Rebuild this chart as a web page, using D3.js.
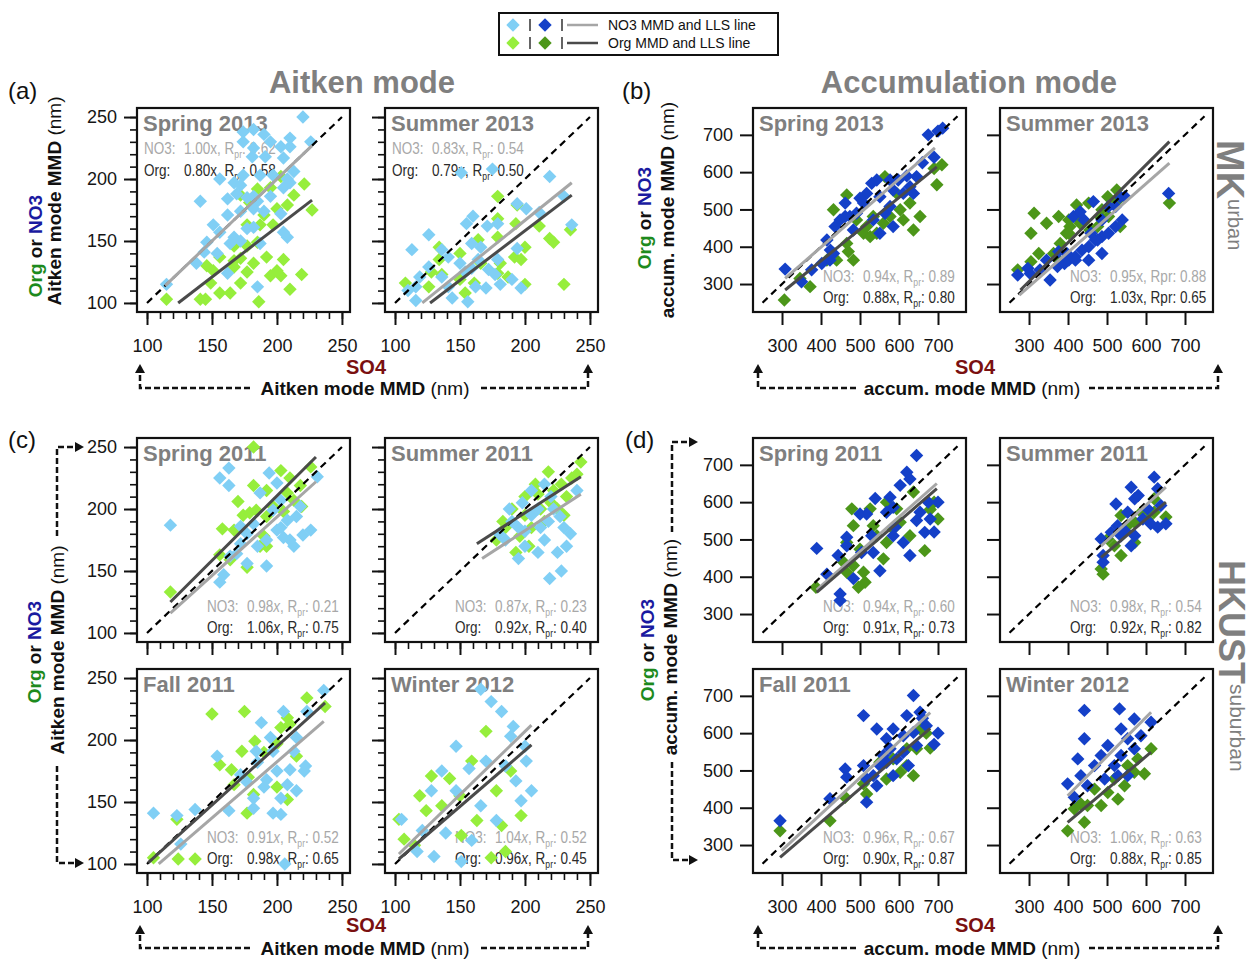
<!DOCTYPE html>
<html>
<head>
<meta charset="utf-8">
<script src="https://cdn.jsdelivr.net/npm/d3@7"></script>
<style>
  body { margin: 0; background: #fff; }
  text { font-family: "Liberation Sans", Arial, sans-serif; }
  .stat { font-size: 16.5px; }
  .ptitle { font-weight: bold; font-size: 22px; fill: #7f7f7f; }
</style>
</head>
<body>
<div id="chart"></div>
<script>
// ---- data: MK urban, Aitken mode (SO4 MMD, Org/NO3 MMD in nm)
const mkAitSpr13NO3 = [[220,250],[174,238],[182,240],[190,236],[210,233],[195,230],[174,230],[226,230],[182,225],[203,226],[210,226],[181,218],[191,218],[205,217],[156,200],[167,197],[174,203],[172,195],[187,203],[197,203],[208,200],[213,206],[141,182],[162,184],[169,188],[177,185],[185,182],[195,186],[205,193],[210,197],[151,163],[162,171],[172,174],[182,176],[190,174],[203,172],[146,149],[156,157],[167,153],[172,150],[177,160],[182,161],[205,157],[208,153],[144,141],[154,140],[164,148],[187,148],[162,124],[185,113],[115,115],[138,132],[182,186]];
const mkAitSpr13Org = [[115,103],[141,103],[145,103],[186,101],[156,108],[164,108],[149,116],[172,116],[210,111],[219,123],[195,122],[203,122],[200,126],[151,126],[167,129],[177,125],[182,132],[192,137],[205,135],[172,136],[167,134],[146,130],[167,146],[177,146],[185,149],[156,137],[177,163],[187,163],[197,163],[190,171],[200,176],[208,179],[213,187],[221,196],[227,175],[179,181],[185,192],[195,193],[203,202],[172,187]];
const mkAitSum13NO3 = [[151,205],[175,208],[219,202],[160,170],[155,164],[126,155],[113,143],[171,162],[179,164],[194,180],[201,176],[211,173],[236,163],[136,143],[141,137],[159,148],[166,145],[164,135],[150,132],[154,125],[159,128],[179,135],[194,144],[126,129],[136,121],[141,113],[116,113],[119,121],[110,110],[116,102],[144,104],[156,101],[162,113],[170,112],[181,115],[190,119],[197,112],[230,186],[172,127],[177,123]];
const mkAitSum13Org = [[179,186],[194,179],[179,168],[193,164],[211,162],[219,152],[222,149],[235,159],[179,153],[164,151],[150,140],[134,145],[134,135],[192,137],[197,135],[200,145],[179,124],[181,132],[166,132],[150,119],[136,123],[128,125],[108,116],[126,113],[154,108],[161,116],[200,115],[230,115],[187,121]];

// ---- MK urban, accumulation mode
const mkAccSpr13NO3 = [[308,340],[350,306],[376,338],[402,355],[415,418],[424,391],[436,454],[449,472],[462,517],[474,481],[491,490],[509,517],[517,543],[530,570],[551,534],[564,490],[577,579],[585,552],[598,579],[611,543],[628,561],[637,543],[645,588],[675,700],[577,508],[534,472],[551,436],[585,454],[483,445],[423,364],[432,382],[462,481],[500,530],[543,579],[700,710],[712,718],[660,625],[620,590],[690,640]];
const mkAccSpr13Org = [[306,257],[346,315],[372,293],[432,499],[466,539],[415,364],[440,364],[470,387],[466,409],[483,364],[509,436],[526,427],[543,436],[560,463],[564,588],[577,481],[603,499],[611,472],[637,445],[654,481],[628,517],[594,543],[534,481],[517,454],[491,472],[697,566],[690,610],[710,620]];
const mkAccSum13NO3 = [[271,324],[297,342],[303,328],[328,338],[354,311],[373,347],[391,355],[402,364],[419,373],[436,391],[453,400],[470,418],[487,427],[504,436],[522,454],[539,472],[534,534],[476,418],[459,436],[441,472],[414,481],[431,494],[465,521],[504,508],[419,364],[397,382],[487,472],[522,508],[546,534],[658,543],[487,382],[453,364],[376,387],[345,364]];
const mkAccSum13Org = [[313,490],[305,436],[345,463],[376,481],[405,454],[422,512],[380,409],[363,382],[396,436],[431,472],[456,445],[482,481],[502,534],[525,552],[525,521],[504,481],[476,454],[402,436],[376,364],[305,360],[271,338],[325,382],[534,454],[660,517],[453,517],[402,472],[431,463],[487,499]];

// ---- HKUST suburban, Aitken mode
const hkAitSpr11NO3 = [[118,187],[156,225],[163,233],[163,219],[182,188],[177,180],[172,172],[164,162],[169,164],[177,156],[156,141],[159,147],[192,154],[194,229],[200,221],[203,207],[197,199],[200,183],[205,177],[210,175],[213,170],[215,194],[218,202],[220,179],[226,183],[231,226],[203,185],[192,175],[185,170],[208,191],[187,213],[172,186]];
const hkAitSpr11Org = [[118,133],[182,250],[158,184],[167,183],[170,206],[174,195],[179,197],[156,163],[164,159],[177,153],[192,170],[190,178],[192,194],[197,202],[203,231],[210,225],[208,213],[218,219],[226,234],[219,202],[213,207],[205,198],[187,170],[182,219],[192,215],[184,199]];
const hkAitSum11NO3 = [[180,180],[185,175],[190,190],[195,185],[200,170],[205,195],[210,200],[212,185],[215,175],[218,190],[220,210],[222,200],[225,165],[228,150],[230,185],[205,215],[195,160],[200,182],[215,220],[232,170],[210,165],[240,215],[188,200],[198,205],[227,194],[219,144],[235,180]];
const hkAitSum11Org = [[178,175],[183,190],[190,200],[196,178],[200,210],[205,185],[208,220],[212,200],[215,190],[218,230],[222,215],[225,200],[228,220],[232,210],[236,225],[243,238],[185,185],[200,195],[210,212],[220,205],[230,195],[240,228],[203,170],[193,165]];
const hkAitFal11NO3 = [[105,141],[123,139],[126,116],[137,144],[154,187],[163,143],[172,172],[177,166],[182,153],[188,214],[185,182],[195,202],[197,191],[200,175],[203,153],[208,164],[210,176],[213,191],[215,202],[205,223],[223,223],[221,175],[222,179],[215,159],[197,141],[203,140],[206,100],[236,240],[190,162],[182,145],[192,168],[184,191]];
const hkAitFal11Org = [[105,105],[124,104],[137,104],[123,136],[150,221],[175,223],[156,180],[165,176],[173,191],[178,170],[183,199],[190,190],[200,197],[200,162],[203,210],[208,218],[208,152],[210,213],[215,187],[223,234],[237,227],[177,141],[182,156],[167,164]];
const hkAitWin12NO3 = [[105,136],[128,159],[139,125],[130,106],[147,195],[157,177],[166,241],[174,231],[182,223],[189,203],[193,167],[201,183],[197,151],[205,159],[178,135],[166,147],[159,119],[151,102],[200,195],[191,211],[170,183],[185,179],[147,159],[136,175],[121,127],[117,110]];
const hkAitWin12Org = [[103,136],[107,120],[115,115],[124,143],[136,147],[142,169],[150,155],[159,183],[170,207],[174,105],[182,131],[189,175],[178,159],[163,135],[151,123],[128,171],[119,155],[197,139],[185,110]];

// ---- HKUST suburban, accumulation mode
const hkAccSpr11NO3 = [[389,476],[415,407],[444,457],[466,483],[466,506],[483,395],[449,354],[500,568],[517,568],[539,610],[530,510],[534,465],[551,416],[577,613],[585,586],[590,533],[603,645],[620,680],[628,662],[645,725],[628,457],[611,492],[654,573],[666,519],[645,551],[568,573],[585,510],[504,465],[449,336],[690,520],[680,555],[700,600],[675,600]];
const hkAccSpr11Org = [[387,372],[466,492],[458,439],[483,430],[500,474],[509,412],[513,385],[496,372],[466,412],[479,582],[534,537],[543,510],[568,492],[585,528],[594,582],[603,546],[628,510],[637,627],[666,470],[568,600],[526,582],[483,537],[560,448],[690,600],[680,580],[700,555]];
const hkAccSum11NO3 = [[621,667],[562,640],[571,609],[523,595],[580,618],[630,636],[553,573],[604,582],[527,537],[545,524],[571,510],[562,483],[485,501],[511,519],[612,542],[630,533],[651,542],[490,439],[490,457],[536,510],[638,591],[592,555]];
const hkAccSum11Org = [[490,407],[485,421],[536,564],[571,546],[588,573],[621,573],[651,560],[621,609],[571,492],[519,483],[553,537],[604,555],[536,457],[502,501]];
const hkAccFal11NO3 = [[295,365],[423,424],[462,504],[466,482],[509,647],[509,513],[517,415],[543,459],[534,486],[551,513],[568,585],[585,611],[577,558],[568,522],[594,531],[611,549],[620,647],[637,701],[637,602],[645,567],[654,656],[611,593],[585,486],[560,540],[517,477],[543,611],[624,513],[670,620],[690,570],[700,600],[660,640]];
const hkAccFal11Org = [[295,338],[423,365],[462,428],[517,437],[509,464],[568,477],[603,495],[620,513],[637,486],[645,558],[654,611],[585,531],[551,522],[620,558],[670,600],[680,560]];
const hkAccWin12NO3 = [[442,661],[532,665],[442,585],[425,531],[399,464],[416,428],[450,459],[433,486],[485,540],[502,567],[536,611],[553,585],[570,638],[613,629],[587,593],[519,513],[536,540],[553,486],[494,477],[468,513],[570,558],[528,486]];
const hkAccWin12Org = [[399,338],[442,361],[433,410],[485,406],[502,441],[528,423],[545,459],[570,495],[596,491],[613,558],[579,531],[553,513],[519,477],[468,450],[450,406],[416,397]];

// LLS fit lines [x1, y1, x2, y2] for NO3 then Org
const mkAitSpr13Fit = [[114,114,227,227],[124,100,227,183]];
const mkAitSum13Fit = [[121,100,236,197],[127,100,236,187]];
const mkAccSpr13Fit = [[308,315,692,665],[308,284,697,614]];
const mkAccSum13Fit = [[275,270,660,624],[278,284,660,682]];
const hkAitSpr11Fit = [[118,116,230,222],[118,125,230,242]];
const hkAitSum11Fit = [[167,160,243,212],[163,172,243,226]];
const hkAitFal11Fit = [[109,100,236,215],[101,101,237,230]];
const hkAitWin12Fit = [[103,108,205,212],[103,104,205,196]];
const hkAccSpr11Fit = [[389,365,697,650],[389,358,697,636]];
const hkAccSum11Fit = [[485,483,651,640],[485,452,651,600]];
const hkAccFal11Fit = [[299,285,680,655],[295,267,680,613]];
const hkAccWin12Fit = [[399,432,613,656],[399,361,613,549]];

// slope / Rpr text: NO3 slope, NO3 R, Org slope, Org R
const mkAitSpr13Stats = ['1.00','0.62','0.80','0.58'];
const mkAitSum13Stats = ['0.83','0.54','0.79','0.50'];
const mkAccSpr13Stats = ['0.94','0.89','0.88','0.80'];
const mkAccSum13Stats = ['0.95','0.88','1.03','0.65'];
const hkAitSpr11Stats = ['0.98','0.21','1.06','0.75'];
const hkAitSum11Stats = ['0.87','0.23','0.92','0.40'];
const hkAitFal11Stats = ['0.91','0.52','0.98','0.65'];
const hkAitWin12Stats = ['1.04','0.52','0.96','0.45'];
const hkAccSpr11Stats = ['0.94','0.60','0.91','0.73'];
const hkAccSum11Stats = ['0.98','0.54','0.92','0.82'];
const hkAccFal11Stats = ['0.96','0.67','0.90','0.87'];
const hkAccWin12Stats = ['1.06','0.63','0.88','0.85'];

const aitTicks = [100, 150, 200, 250];
const aitMinor = [100,110,120,130,140,150,160,170,180,190,200,210,220,230,240,250];
const accTicks = [300, 400, 500, 600, 700];

// ---- layout
const W = 1254, H = 959;
const colX = [137, 385, 753, 1000];
const rowY = [108, 438, 669];
const PW = 213, PH = 204;

const modes = {
  ait: { xDom: [92.3, 256.2], yDom: [92.7, 257.3], major: aitTicks, minor: aitMinor, one: [100, 250],
         no3Col: '#80cff5', orgCol: '#96ee3c' },
  acc: { xDom: [225.6, 771.8], yDom: [225, 772], major: accTicks, minor: [], one: [250, 750],
         no3Col: '#1440c8', orgCol: '#4c9619' }
};

const panels = [
  { mode: 'ait', col: 0, row: 0, title: 'Spring 2013', no3: mkAitSpr13NO3, org: mkAitSpr13Org, fit: mkAitSpr13Fit, stats: mkAitSpr13Stats, top: true },
  { mode: 'ait', col: 1, row: 0, title: 'Summer 2013', no3: mkAitSum13NO3, org: mkAitSum13Org, fit: mkAitSum13Fit, stats: mkAitSum13Stats, top: true },
  { mode: 'acc', col: 2, row: 0, title: 'Spring 2013', no3: mkAccSpr13NO3, org: mkAccSpr13Org, fit: mkAccSpr13Fit, stats: mkAccSpr13Stats },
  { mode: 'acc', col: 3, row: 0, title: 'Summer 2013', no3: mkAccSum13NO3, org: mkAccSum13Org, fit: mkAccSum13Fit, stats: mkAccSum13Stats, plainR: true },
  { mode: 'ait', col: 0, row: 1, title: 'Spring 2011', no3: hkAitSpr11NO3, org: hkAitSpr11Org, fit: hkAitSpr11Fit, stats: hkAitSpr11Stats, ital: true },
  { mode: 'ait', col: 1, row: 1, title: 'Summer 2011', no3: hkAitSum11NO3, org: hkAitSum11Org, fit: hkAitSum11Fit, stats: hkAitSum11Stats, ital: true },
  { mode: 'ait', col: 0, row: 2, title: 'Fall 2011', no3: hkAitFal11NO3, org: hkAitFal11Org, fit: hkAitFal11Fit, stats: hkAitFal11Stats, ital: true },
  { mode: 'ait', col: 1, row: 2, title: 'Winter 2012', no3: hkAitWin12NO3, org: hkAitWin12Org, fit: hkAitWin12Fit, stats: hkAitWin12Stats, ital: true },
  { mode: 'acc', col: 2, row: 1, title: 'Spring 2011', no3: hkAccSpr11NO3, org: hkAccSpr11Org, fit: hkAccSpr11Fit, stats: hkAccSpr11Stats, ital: true },
  { mode: 'acc', col: 3, row: 1, title: 'Summer 2011', no3: hkAccSum11NO3, org: hkAccSum11Org, fit: hkAccSum11Fit, stats: hkAccSum11Stats, ital: true },
  { mode: 'acc', col: 2, row: 2, title: 'Fall 2011', no3: hkAccFal11NO3, org: hkAccFal11Org, fit: hkAccFal11Fit, stats: hkAccFal11Stats, ital: true },
  { mode: 'acc', col: 3, row: 2, title: 'Winter 2012', no3: hkAccWin12NO3, org: hkAccWin12Org, fit: hkAccWin12Fit, stats: hkAccWin12Stats, ital: true }
];

const svg = d3.select('#chart').append('svg').attr('width', W).attr('height', H);
svg.append('rect').attr('width', W).attr('height', H).attr('fill', '#fff');

const diamond = d3.symbol(d3.symbolSquare, 90);

function styleAxis(sel, width) {
  sel.select('.domain').remove();
  sel.selectAll('line').attr('stroke', '#111').attr('stroke-width', width);
  sel.selectAll('text').attr('font-size', 18).attr('fill', '#151515')
    .attr('font-family', '"Liberation Sans", Arial, sans-serif');
}

// condensed look: squeeze horizontally, like a narrow face
const SQ = 0.82;
function statLine(g, x, y, label, slope, r, color, p) {
  const t = g.append('text').attr('class', 'stat')
    .attr('transform', `translate(${x},${y}) scale(${SQ},1)`).attr('fill', color);
  t.append('tspan').text(label);
  t.append('tspan').attr('x', 40 / SQ).text(slope);
  t.append('tspan').attr('font-style', p.ital ? 'italic' : null).text('x');
  if (p.plainR) {
    t.append('tspan').text(', Rpr: ' + r);
  } else {
    t.append('tspan').text(', R');
    t.append('tspan').attr('font-size', 10.5).attr('dy', 4).text('pr');
    t.append('tspan').attr('dy', -4).text(': ' + r);
  }
}

function drawPanel(p) {
  const m = modes[p.mode];
  const x0 = colX[p.col], y0 = rowY[p.row];
  const xs = d3.scaleLinear().domain(m.xDom).range([x0, x0 + PW]);
  const ys = d3.scaleLinear().domain(m.yDom).range([y0 + PH, y0]);
  const g = svg.append('g');

  const showY = p.col % 2 === 0;
  const showX = p.row !== 1;

  // minor ticks
  if (m.minor.length) {
    g.append('g').attr('transform', `translate(${x0},0)`)
      .call(d3.axisLeft(ys).tickValues(m.minor).tickSize(7).tickFormat(''))
      .call(s => styleAxis(s, 1.6));
    g.append('g').attr('transform', `translate(0,${y0 + PH})`)
      .call(d3.axisBottom(xs).tickValues(m.minor).tickSize(7).tickFormat(''))
      .call(s => styleAxis(s, 1.6));
  }
  // major ticks
  g.append('g').attr('transform', `translate(${x0},0)`)
    .call(d3.axisLeft(ys).tickValues(m.major).tickSize(13).tickPadding(7)
      .tickFormat(showY ? d3.format('d') : ''))
    .call(s => styleAxis(s, 2));
  g.append('g').attr('transform', `translate(0,${y0 + PH})`)
    .call(d3.axisBottom(xs).tickValues(m.major).tickSize(13).tickPadding(14)
      .tickFormat(showX ? d3.format('d') : ''))
    .call(s => styleAxis(s, 2));

  // season title and stats
  g.append('text').attr('class', 'ptitle').attr('x', x0 + 6).attr('y', y0 + 23).text(p.title);
  const lx = p.top ? x0 + 7 : x0 + 70;
  const ly = p.top ? [y0 + 46, y0 + 68] : [y0 + PH - 30, y0 + PH - 9];
  statLine(g, lx, ly[0], 'NO3:', p.stats[0], p.stats[1], '#a8a8a8', p);
  statLine(g, lx, ly[1], 'Org:', p.stats[2], p.stats[3], '#2a2a2a', p);

  // markers
  g.append('g').selectAll('path').data(p.org).join('path')
    .attr('d', diamond)
    .attr('transform', d => `translate(${xs(d[0])},${ys(d[1])}) rotate(45)`)
    .attr('fill', m.orgCol);
  g.append('g').selectAll('path').data(p.no3).join('path')
    .attr('d', diamond)
    .attr('transform', d => `translate(${xs(d[0])},${ys(d[1])}) rotate(45)`)
    .attr('fill', m.no3Col);

  // 1:1 line
  g.append('line')
    .attr('x1', xs(m.one[0])).attr('y1', ys(m.one[0]))
    .attr('x2', xs(m.one[1])).attr('y2', ys(m.one[1]))
    .attr('stroke', '#000').attr('stroke-width', 2.2).attr('stroke-dasharray', '7,5');

  // LLS fits
  const fitCols = ['#a6a6a6', '#4a4a4a'];
  p.fit.forEach((f, i) => {
    g.append('line')
      .attr('x1', xs(f[0])).attr('y1', ys(f[1]))
      .attr('x2', xs(f[2])).attr('y2', ys(f[3]))
      .attr('stroke', fitCols[i]).attr('stroke-width', 3);
  });

  g.append('rect').attr('x', x0).attr('y', y0).attr('width', PW).attr('height', PH)
    .attr('fill', 'none').attr('stroke', '#111').attr('stroke-width', 2.2);
}

panels.forEach(drawPanel);

// ---- headers and labels
const gray = '#7f7f7f';
svg.append('text').attr('x', 362).attr('y', 93).attr('text-anchor', 'middle')
  .attr('font-size', 31).attr('font-weight', 'bold').attr('fill', gray).text('Aitken mode');
svg.append('text').attr('x', 969).attr('y', 93).attr('text-anchor', 'middle')
  .attr('font-size', 31).attr('font-weight', 'bold').attr('fill', gray).text('Accumulation mode');

[['(a)', 8, 99], ['(b)', 622, 99], ['(c)', 8, 448], ['(d)', 625, 448]].forEach(([t, x, y]) => {
  svg.append('text').attr('x', x).attr('y', y).attr('font-size', 24).attr('fill', '#111').text(t);
});

// site labels on the right, reading downwards
const mk = svg.append('text').attr('transform', 'translate(1217,140) rotate(90)')
  .attr('fill', gray);
mk.append('tspan').attr('font-size', 38).attr('font-weight', 'bold').text('MK');
mk.append('tspan').attr('font-size', 20).attr('dy', -11).text('urban');
const hk = svg.append('text').attr('transform', 'translate(1219,560) rotate(90)')
  .attr('fill', gray);
hk.append('tspan').attr('font-size', 36).attr('font-weight', 'bold').text('HKUST');
hk.append('tspan').attr('font-size', 21).attr('dy', -11).text('suburban');

// rotated y titles
function orgNo3(cx, cy) {
  const t = svg.append('text').attr('transform', `translate(${cx},${cy}) rotate(-90)`)
    .attr('text-anchor', 'middle').attr('dy', '0.35em')
    .attr('font-size', 19).attr('font-weight', 'bold');
  t.append('tspan').attr('fill', '#1d8a1d').text('Org');
  t.append('tspan').attr('fill', '#111').text(' or ');
  t.append('tspan').attr('fill', '#1a1aa0').text('NO3');
}
function modeTitle(cx, cy, name) {
  const t = svg.append('text').attr('transform', `translate(${cx},${cy}) rotate(-90)`)
    .attr('text-anchor', 'middle').attr('dy', '0.35em').attr('font-size', 19).attr('fill', '#111');
  t.append('tspan').attr('font-weight', 'bold').text(name + ' mode MMD');
  t.append('tspan').text(' (nm)');
}
orgNo3(35, 246); modeTitle(54, 201, 'Aitken');
orgNo3(644, 218); modeTitle(667, 210, 'accum.');
orgNo3(34, 652); modeTitle(57, 650, 'Aitken');
orgNo3(647, 650); modeTitle(670, 647, 'accum.');

// bottom SO4 + x titles
[[366, 374], [975, 374], [366, 932], [975, 932]].forEach(([x, y]) => {
  svg.append('text').attr('x', x).attr('y', y).attr('text-anchor', 'middle')
    .attr('font-size', 20).attr('font-weight', 'bold').attr('fill', '#7a1010').text('SO4');
});
[[365, 388, 'Aitken'], [972, 388, 'accum.'], [365, 948, 'Aitken'], [972, 948, 'accum.']].forEach(([x, y, n]) => {
  const t = svg.append('text').attr('x', x).attr('y', y).attr('dy', '0.35em').attr('text-anchor', 'middle')
    .attr('font-size', 19).attr('fill', '#111');
  t.append('tspan').attr('font-weight', 'bold').text(n + ' mode MMD');
  t.append('tspan').text(' (nm)');
});

// dashed brackets with arrows
const bracket = svg.append('g').attr('fill', 'none').attr('stroke', '#111')
  .attr('stroke-width', 2.5).attr('stroke-dasharray', '6,3');
const heads = svg.append('g').attr('fill', '#111');
function upArrow(x, y) {
  heads.append('path').attr('d', `M${x},${y} l-5,9 l10,0 z`);
}
function rightArrow(x, y) {
  heads.append('path').attr('d', `M${x},${y} l-9,-5 l0,10 z`);
}
const bottomBr = [
  { y: 388, tip: 364, l: 140, lEnd: 250, rStart: 481, r: 588 },
  { y: 388, tip: 364, l: 758, lEnd: 856, rStart: 1089, r: 1218 },
  { y: 948, tip: 925, l: 140, lEnd: 250, rStart: 481, r: 588 },
  { y: 948, tip: 925, l: 758, lEnd: 856, rStart: 1089, r: 1218 }
];
bottomBr.forEach(b => {
  bracket.append('path').attr('d', `M${b.lEnd},${b.y} H${b.l} V${b.tip + 8}`);
  bracket.append('path').attr('d', `M${b.rStart},${b.y} H${b.r} V${b.tip + 8}`);
  upArrow(b.l, b.tip); upArrow(b.r, b.tip);
});
const leftBr = [
  { x: 57, top: 447, topEnd: 536, bot: 863, botStart: 766, tip: 84 },
  { x: 672, top: 442, topEnd: 532, bot: 860, botStart: 762, tip: 698 }
];
leftBr.forEach(b => {
  bracket.append('path').attr('d', `M${b.x},${b.topEnd} V${b.top} H${b.tip - 8}`);
  bracket.append('path').attr('d', `M${b.x},${b.botStart} V${b.bot} H${b.tip - 8}`);
  rightArrow(b.tip, b.top); rightArrow(b.tip, b.bot);
});

// legend
const lg = svg.append('g');
lg.append('rect').attr('x', 499).attr('y', 13).attr('width', 279).attr('height', 42)
  .attr('fill', '#fff').attr('stroke', '#111').attr('stroke-width', 2);
const legRows = [
  { y: 25, c1: modes.ait.no3Col, c2: modes.acc.no3Col, line: '#a6a6a6', label: 'NO3 MMD and LLS line' },
  { y: 43, c1: modes.ait.orgCol, c2: modes.acc.orgCol, line: '#4a4a4a', label: 'Org MMD and LLS line' }
];
legRows.forEach(r => {
  lg.append('path').attr('d', diamond).attr('transform', `translate(513,${r.y}) rotate(45)`).attr('fill', r.c1);
  lg.append('path').attr('d', diamond).attr('transform', `translate(545,${r.y}) rotate(45)`).attr('fill', r.c2);
  [530, 562].forEach(x => lg.append('line').attr('x1', x).attr('x2', x)
    .attr('y1', r.y - 6).attr('y2', r.y + 6).attr('stroke', '#111').attr('stroke-width', 1.3));
  lg.append('line').attr('x1', 567).attr('x2', 598).attr('y1', r.y).attr('y2', r.y)
    .attr('stroke', r.line).attr('stroke-width', 2.5);
  lg.append('text').attr('x', 608).attr('y', r.y + 5).attr('font-size', 14).attr('fill', '#111').text(r.label);
});
</script>
</body>
</html>
